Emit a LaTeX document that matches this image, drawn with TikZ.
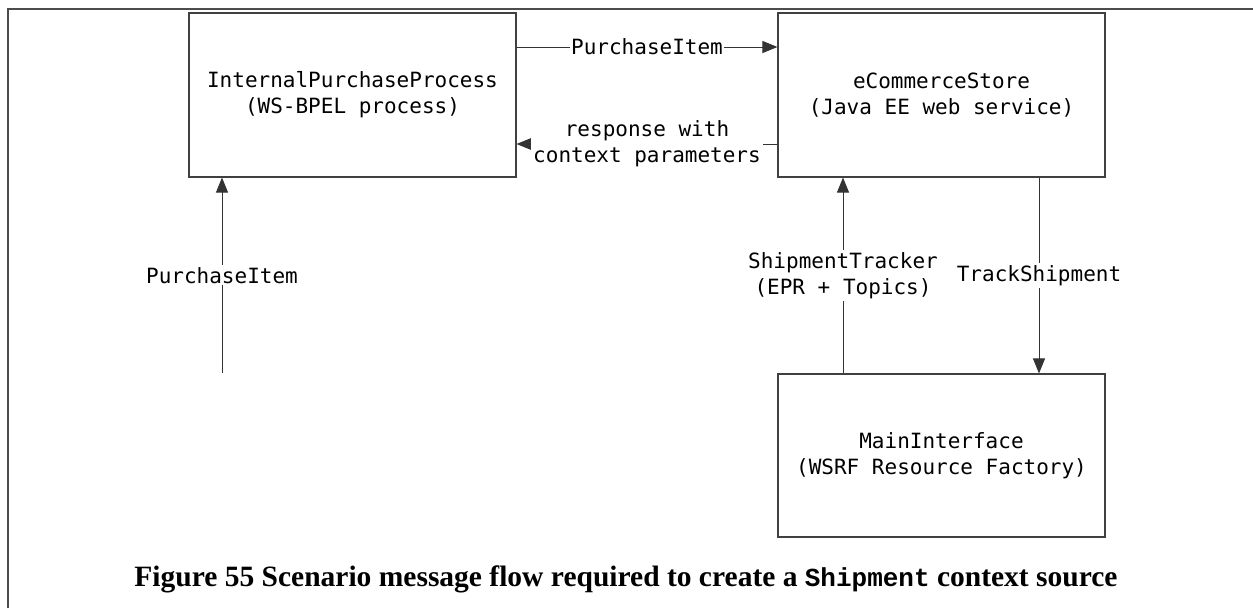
\documentclass[tikz,border=0pt]{standalone}
\usepackage{fontspec}
\usetikzlibrary{arrows.meta}
\newfontfamily\boxfont{DejaVu Sans Mono}
\newfontfamily\capfont{Liberation Serif}
\newfontfamily\capmono{Liberation Mono}
\begin{document}
\begin{tikzpicture}[x=1pt,y=-1pt,
  box/.style={draw=black!75,line width=1.1pt,minimum width=327pt,minimum height=164pt,inner sep=0pt,
    align=center,font=\boxfont\fontsize{21}{26}\selectfont},
  arr/.style={draw=black!80,line width=1pt,-{Triangle[length=15pt,width=12pt]}},
  lbl/.style={fill=white,inner sep=2pt,align=center,font=\boxfont\fontsize{21}{26}\selectfont}]
\useasboundingbox (0,0) rectangle (1253,608);
\draw[black!70,line width=2pt] (8,608) -- (8,9) -- (1253,9);
\node[box] (ipp) at (352.5,95) {InternalPurchaseProcess\\(WS-BPEL process)};
\node[box] (ecs) at (941.5,95) {eCommerceStore\\(Java EE web service)};
\node[box,minimum height=163pt] (mi) at (941.5,455.5) {MainInterface\\(WSRF Resource Factory)};
\coordinate (src) at (222,373);
\draw[arr] ([yshift=48pt]ipp.east) -- node[lbl,inner sep=1pt] {PurchaseItem} ([yshift=48pt]ecs.west);
\draw[arr] ([yshift=-49pt]ecs.west) -- node[lbl] {response with\\context parameters} ([yshift=-49pt]ipp.east);
\draw[arr] (src) -- node[lbl] {PurchaseItem} (src |- ipp.south);
\draw[arr] ([xshift=-98.5pt]mi.north) -- node[lbl] {ShipmentTracker\\(EPR + Topics)} ([xshift=-98.5pt]ecs.south);
\draw[arr] ([xshift=97.5pt]ecs.south) -- node[lbl] {TrackShipment} ([xshift=97.5pt]mi.north);
\node[anchor=base,inner sep=0pt,font=\capfont\bfseries\fontsize{29.5}{33}\selectfont] (cap) at (626,586)
  {Figure 55 Scenario message flow required to create a {\capmono\bfseries\fontsize{26}{28}\selectfont Shipment} context source};
\end{tikzpicture}
\end{document}
